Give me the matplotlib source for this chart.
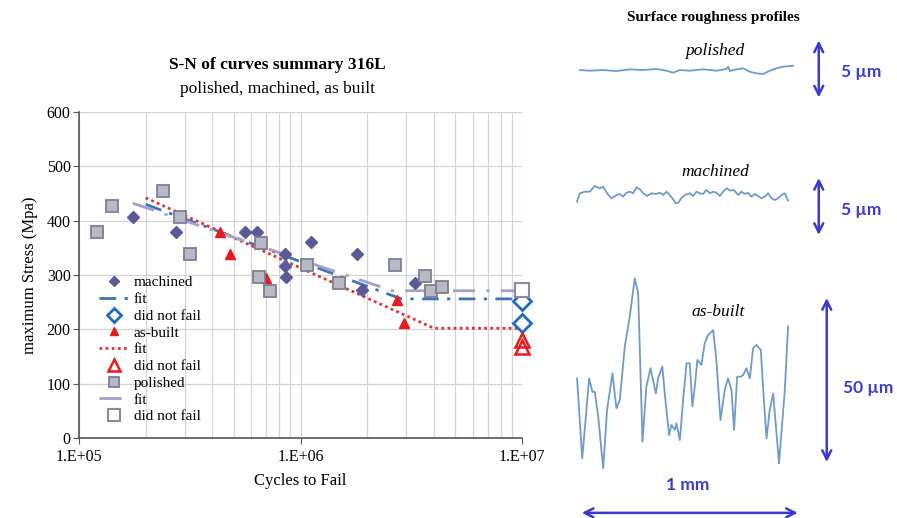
import numpy as np
import matplotlib
matplotlib.use("Agg")
import matplotlib.pyplot as plt

plt.rcParams['font.family'] = ['Liberation Serif', 'DejaVu Serif']

# S-N data, stress in MPa vs cycles to failure
mach_n = [1.76e5, 2.75e5, 5.6e5, 6.35e5, 8.47e5, 8.47e5, 8.6e5, 1.12e6, 1.80e6, 1.89e6, 3.29e6]
mach_s = [406, 380, 380, 380, 339, 317, 296, 360, 339, 272, 285]
mach_runout_n = [1e7, 1e7]
mach_runout_s = [253, 212]
mach_fit_n = [2.0e5, 2.85e6, 1e7]
mach_fit_s = [430, 256, 256]

built_n = [4.35e5, 4.82e5, 7.0e5, 2.74e6, 2.92e6]
built_s = [380, 338, 295, 254, 211]
built_runout_n = [1e7, 1e7]
built_runout_s = [181, 168]
built_fit_n = [2.0e5, 4.0e6, 1e7]
built_fit_s = [442, 202, 202]

pol_n = [1.21e5, 1.41e5, 2.40e5, 2.85e5, 3.16e5, 6.47e5, 6.65e5, 7.25e5,
         1.07e6, 1.49e6, 2.68e6, 3.64e6, 3.90e6, 4.37e6]
pol_s = [380, 427, 455, 406, 338, 297, 358, 270, 318, 285, 318, 299, 271, 277]
pol_runout_n = [1e7]
pol_runout_s = [272]
pol_fit_n = [1.75e5, 2.6e6, 1e7]
pol_fit_s = [432, 271, 271]

# roughness profiles: position (mm), height (um)
polished_x = [-0.009, 0.037, 0.099, 0.161, 0.222, 0.284, 0.346, 0.392, 0.423, 0.454,
              0.5, 0.562, 0.624, 0.670, 0.678, 0.685, 0.716, 0.747, 0.778, 0.809,
              0.840, 0.870, 0.901, 0.932, 0.978]
polished_h = [-0.09, -0.15, -0.09, -0.18, -0.03, -0.09, 0.0, -0.15, -0.32, -0.09,
              -0.15, -0.03, -0.15, 0.0, 0.2, -0.18, -0.03, 0.06, -0.24, -0.38,
              -0.44, -0.15, 0.06, 0.2, 0.29]

machined_x = [-0.022, -0.009, 0.014, 0.037, 0.060, 0.083, 0.099, 0.117, 0.137, 0.153,
              0.176, 0.191, 0.207, 0.222, 0.238, 0.253, 0.269, 0.284, 0.302, 0.323,
              0.343, 0.361, 0.377, 0.392, 0.407, 0.423, 0.435, 0.446, 0.461, 0.477,
              0.5, 0.515, 0.531, 0.546, 0.562, 0.577, 0.593, 0.608, 0.623, 0.639,
              0.654, 0.670, 0.688, 0.704, 0.724, 0.739, 0.755, 0.770, 0.785, 0.801,
              0.816, 0.832, 0.847, 0.863, 0.878, 0.894, 0.909, 0.924, 0.940, 0.955]
machined_h = [0.42, 1.16, 1.30, 1.30, 1.80, 1.59, 1.74, 1.16, 0.72, 0.92,
              1.10, 0.86, 1.21, 1.30, 1.16, 1.68, 1.51, 1.16, 0.92, 1.16,
              1.10, 1.21, 1.01, 1.30, 1.01, 0.63, 0.28, 0.34, 0.72, 1.01,
              1.16, 0.92, 1.30, 1.16, 1.10, 1.45, 1.16, 1.30, 1.21, 0.92,
              1.30, 1.59, 1.39, 1.45, 1.01, 1.30, 1.10, 1.21, 0.86, 1.10,
              0.92, 0.72, 0.86, 1.16, 0.72, 0.57, 0.72, 1.01, 1.16, 0.51]

asbuilt_x = [-0.022, 0.002, 0.034, 0.049, 0.060, 0.076, 0.099, 0.117, 0.142, 0.160,
             0.176, 0.199, 0.222, 0.245, 0.261, 0.281, 0.299, 0.318, 0.343, 0.353,
             0.373, 0.384, 0.404, 0.415, 0.431, 0.438, 0.454, 0.469, 0.485, 0.5,
             0.512, 0.523, 0.535, 0.554, 0.569, 0.585, 0.608, 0.623, 0.642, 0.662,
             0.677, 0.693, 0.705, 0.719, 0.735, 0.747, 0.762, 0.778, 0.793, 0.809,
             0.829, 0.836, 0.855, 0.870, 0.886, 0.913, 0.940, 0.955]
asbuilt_h = [0.5, -23.9, 0.5, -3.6, -3.6, -11.2, -26.9, -9.1, 2.0, -8.6,
             -6.1, 10.2, 19.3, 31.0, 26.4, -18.8, -2.0, 3.6, -4.1, 0.5,
             4.1, -4.1, -16.8, -13.7, -15.2, -13.2, -18.3, -6.1, 5.1, 5.1,
             -8.1, -2.0, 6.1, 4.6, 11.2, 13.7, 15.2, 6.1, -12.2, -3.0,
             0.5, -3.0, -15.2, 1.0, 1.0, 1.5, 3.6, 0.5, 9.7, 10.7,
             9.1, 1.0, -17.8, -9.1, -4.1, -25.4, -3.0, 16.3]

W, H = 897, 518
fig = plt.figure(figsize=(W / 100, H / 100), dpi=100)

# ---- S-N chart ----
ax = fig.add_axes([79 / W, (H - 438) / H, (522 - 79) / W, (438 - 112) / H])
ax.set_xscale('log')
ax.set_xlim(1e5, 1e7)
ax.set_ylim(0, 600)
ax.set_yticks(range(0, 601, 100))
ax.set_xticks([1e5, 1e6, 1e7], ['1.E+05', '1.E+06', '1.E+07'])
ax.grid(True, which='major', color='#d4d4d4', lw=0.9)
ax.grid(True, which='minor', axis='x', color='#d4d4d4', lw=0.9)
ax.tick_params(axis='both', which='major', labelsize=11.5, length=4, color='#555555', pad=2)
ax.tick_params(axis='x', which='minor', length=0)
ax.tick_params(axis='x', which='major', pad=4)
for side in ('top', 'right'):
    ax.spines[side].set_visible(False)
for side in ('left', 'bottom'):
    ax.spines[side].set_color('#555555')
    ax.spines[side].set_linewidth(1.2)
ax.set_axisbelow(True)
ax.set_xlabel('Cycles to Fail', fontsize=12, labelpad=6)
ax.set_ylabel('maximum Stress (Mpa)', fontsize=12, labelpad=6)

h1, = ax.plot(mach_n, mach_s, 'D', color='#5a5a98', ms=6.5, ls='none', label='machined', zorder=4)
h2, = ax.plot(mach_fit_n, mach_fit_s, color='#3f74b8', lw=2, ls=(0, (6, 3, 1.2, 3)), label='fit', zorder=3)
h3, = ax.plot(mach_runout_n, mach_runout_s, 'D', mfc='white', mec='#1f6bc2', mew=2, ms=9,
              ls='none', label='did not fail', clip_on=False, zorder=5)
h4, = ax.plot(built_n, built_s, '^', color='#e8191f', ms=7, ls='none', label='as-built', zorder=4)
h5, = ax.plot(built_fit_n, built_fit_s, color='#e23232', lw=2, ls=(0, (1, 1.2)), label='fit', zorder=3)
h6, = ax.plot(built_runout_n, built_runout_s, '^', mfc='none', mec='#e8191f', mew=1.8, ms=10,
              ls='none', label='did not fail', clip_on=False, zorder=5)
h7, = ax.plot(pol_n, pol_s, 's', mfc='#b9b9c3', mec='#7d7d95', mew=1.3, ms=8.5, ls='none',
              label='polished', zorder=4)
h8, = ax.plot(pol_fit_n, pol_fit_s, color='#a2a2c8', lw=2, ls=(0, (8, 4, 1.2, 4)), label='fit', zorder=3)
h9, = ax.plot(pol_runout_n, pol_runout_s, 's', mfc='white', mec='#8a8aa2', mew=1.5, ms=10,
              ls='none', label='did not fail', clip_on=False, zorder=5)

leg = ax.legend(handles=[h1, h2, h3, h4, h5, h6, h7, h8, h9], loc='lower left',
                bbox_to_anchor=(0.02, 0.012), frameon=False, fontsize=11,
                labelspacing=0.2, handlelength=2.0, handletextpad=0.3,
                borderpad=0.2, markerscale=0.8)

fig.text(277 / W, 1 - 65 / H, 'S-N of curves summary 316L', ha='center', va='center',
         fontsize=12.5, fontweight='bold')
fig.text(277 / W, 1 - 89 / H, 'polished, machined, as built', ha='center', va='center',
         fontsize=12.5)

# ---- roughness profiles ----
line_c = '#6e9cca'
bar_c = '#3b3bcf'
x0, x1 = 571, 895
fig.text(713 / W, 1 - 18 / H, 'Surface roughness profiles', ha='center', va='center',
         fontsize=11, fontweight='bold')


def profile_axes(top, bottom, ylim):
    a = fig.add_axes([x0 / W, (H - bottom) / H, (x1 - x0) / W, (bottom - top) / H])
    a.set_xlim(-0.05, 1.45)
    a.set_ylim(*ylim)
    a.axis('off')
    return a


def scale_bar(a, x, y0, y1, text, tx, ty):
    a.annotate('', xy=(x, y1), xytext=(x, y0),
               arrowprops=dict(arrowstyle='<->', color=bar_c, lw=1.8,
                               mutation_scale=16, shrinkA=0, shrinkB=0))
    a.text(tx, ty, text, color=bar_c, fontsize=12.5, family=['Lato', 'DejaVu Sans'],
           fontweight='bold', ha='left', va='center')


ap = profile_axes(30, 110, (-3.596, 3.421))
ap.plot(polished_x, polished_h, color=line_c, lw=1.3)
ap.text(0.616, 1.55, 'polished', style='italic', fontsize=12.5, ha='center', va='center')
scale_bar(ap, 1.097, -2.5, 2.5, '5 µm', 1.20, -0.3)

am = profile_axes(160, 250, (-3.816, 4.079))
am.plot(machined_x, machined_h, color=line_c, lw=1.3)
am.text(0.616, 3.05, 'machined', style='italic', fontsize=12.5, ha='center', va='center')
scale_bar(am, 1.097, -2.5, 2.5, '5 µm', 1.20, -0.3)

ab = profile_axes(270, 518, (-42.07, 33.54))
ab.plot(asbuilt_x, asbuilt_h, color=line_c, lw=1.3)
ab.text(0.63, 20.7, 'as-built', style='italic', fontsize=12.5, ha='center', va='center')
scale_bar(ab, 1.134, -25, 25, '50 µm', 1.21, -2.4)
ab.annotate('', xy=(1.0, -40.5), xytext=(0.0, -40.5),
            arrowprops=dict(arrowstyle='<->', color=bar_c, lw=1.8,
                            mutation_scale=16, shrinkA=0, shrinkB=0))
ab.text(0.49, -32, '1 mm', color=bar_c, fontsize=12.5, family=['Lato', 'DejaVu Sans'],
        fontweight='bold', ha='center', va='center')

fig.savefig('out.png', dpi=100)
